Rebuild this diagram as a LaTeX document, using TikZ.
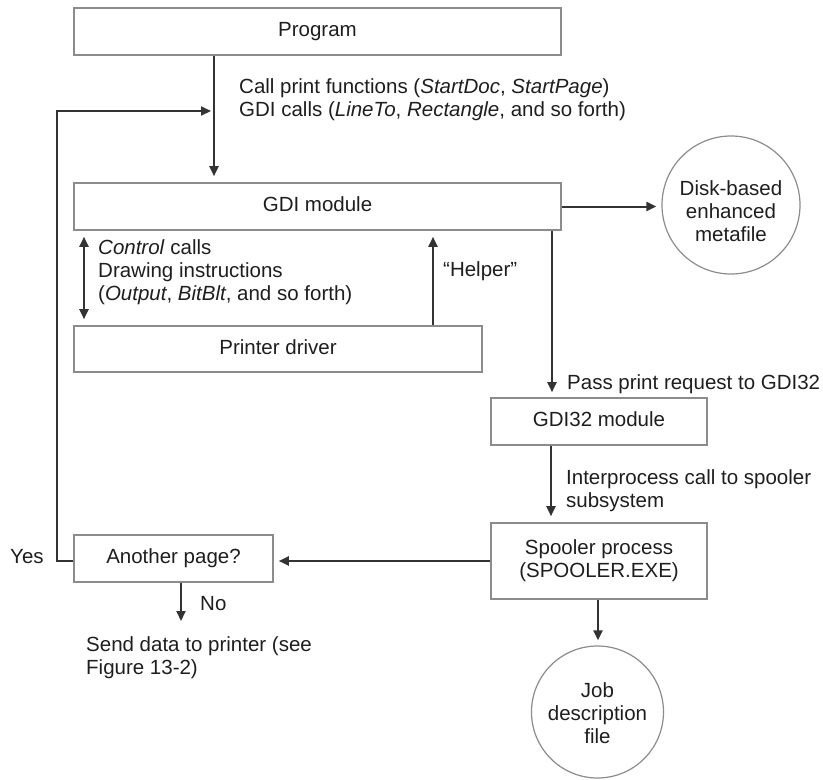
\documentclass[tikz,border=0pt]{standalone}
\usepackage{fontspec}
\setmainfont{Liberation Sans}
\usetikzlibrary{arrows.meta,calc}
\definecolor{boxgray}{HTML}{8C8C8C}
\definecolor{arrgray}{HTML}{333333}
\definecolor{txt}{HTML}{1E1E1E}
\newcommand{\dfont}{\fontsize{20.5}{23}\selectfont}
\begin{document}
\begin{tikzpicture}[x=1pt,y=-1pt,
  box/.style={draw=boxgray,line width=1.6pt,inner sep=0pt,font=\dfont,text=txt,minimum height=47pt},
  one/.style={text height=15pt,text depth=4.5pt},
  disc/.style={circle,draw=boxgray,line width=1.2pt,inner sep=0pt,align=center,font=\dfont,text=txt},
  arr/.style={draw=arrgray,line width=2pt,-{Triangle[length=10pt,width=9pt]}},
  txtlbl/.style={anchor=base west,inner sep=0pt,font=\dfont,text=txt}]
\useasboundingbox (0,0) rectangle (823,780);

% boxes
\node[box,one,minimum width=487pt] (prog) at (317.5,31.5) {Program};
\node[box,one,minimum width=487pt] (gdi) at (317.5,206.5) {GDI module};
\node[box,one,minimum width=408pt,minimum height=46pt] (drv) at (278,349) {Printer driver};
\node[box,one,minimum width=216pt] (gdi32) at (599,421.5) {GDI32 module};
\node[box,align=center,minimum width=216pt,minimum height=76pt] (spool) at (599,561) {Spooler process\\(SPOOLER.EXE)};
\node[box,one,minimum width=199pt] (another) at (173.5,558.5) {Another page?};
\node[disc,minimum size=138pt] (disk) at (731,205) {\raisebox{-14pt}[0pt][0pt]{\begin{tabular}{@{}c@{}}Disk-based\\enhanced\\metafile\end{tabular}}};
\node[disc,minimum size=132pt] (job) at (597.5,712) {\raisebox{-9pt}[0pt][0pt]{\begin{tabular}{@{}c@{}}Job\\description\\file\end{tabular}}};

% labels
\node[txtlbl] (call1) at (239,93) {Call print functions (\textit{StartDoc}, \textit{StartPage})};
\node[txtlbl] (call2) at (239,116) {GDI calls (\textit{LineTo}, \textit{Rectangle}, and so forth)};
\node[txtlbl] (ctl1) at (98,254) {\textit{Control} calls};
\node[txtlbl] (ctl2) at (98,277) {Drawing instructions};
\node[txtlbl] (ctl3) at (98,300) {(\textit{Output}, \textit{BitBlt}, and so forth)};
\node[txtlbl] (help) at (443,276) {“Helper”};
\node[txtlbl] (pass) at (567,389) {Pass print request to GDI32};
\node[txtlbl] (ipc1) at (566,484) {Interprocess call to spooler};
\node[txtlbl] (ipc2) at (566,507) {subsystem};
\node[txtlbl] (yes) at (10,563) {Yes};
\node[txtlbl] (no) at (200,610) {No};
\node[txtlbl] (send1) at (86,651) {Send data to printer (see};
\node[txtlbl] (send2) at (86,674) {Figure 13-2)};

% helper coordinates
\coordinate (xa) at (214,0);
\coordinate (fb) at (214,111);
\coordinate (loopc) at (57,111);
\coordinate (yl) at (57,561);
\coordinate (xd) at (84,0);
\coordinate (xh) at (433,0);
\coordinate (xp) at (552,0);
\coordinate (xq) at (551,0);
\coordinate (xj) at (598,0);
\coordinate (xn) at (181,0);
\coordinate (noend) at (181,621);

% connectors
\draw[arr,shorten >=6pt] (prog.south -| xa) -- (gdi.north -| xa);
\draw[arr,shorten >=3pt] (another.west |- yl) -| (loopc) -- (fb);
\draw[arr,{Triangle[length=10pt,width=9pt]}-{Triangle[length=10pt,width=9pt]},shorten <=6pt,shorten >=6pt] (gdi.south -| xd) -- (drv.north -| xd);
\draw[arr,shorten >=6pt] (drv.north -| xh) -- (gdi.south -| xh);
\draw[arr,shorten >=5pt] (gdi.east) -- (gdi.east -| disk.west);
\draw[arr,shorten >=5pt] (gdi.south -| xp) -- (gdi32.north -| xp);
\draw[arr,shorten >=6pt] (gdi32.south -| xq) -- (spool.north -| xq);
\draw[arr,shorten >=5pt] (spool.west |- yl) -- (another.east |- yl);
\draw[arr,shorten >=5pt] (spool.south -| xj) -- (job.north -| xj);
\draw[arr] (another.south -| xn) -- (noend);
\end{tikzpicture}
\end{document}
